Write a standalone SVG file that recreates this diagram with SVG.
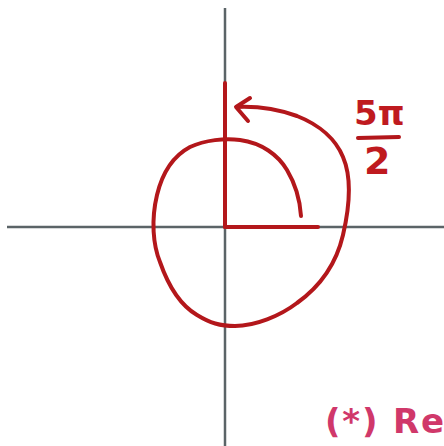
<svg xmlns="http://www.w3.org/2000/svg" width="444" height="446" viewBox="0 0 444 446">
<style>
.axis{stroke:#5b6467;stroke-width:2.5;fill:none}
.red{stroke:#b3171b;stroke-width:4;fill:none;stroke-linecap:round;stroke-linejoin:round}
.lbl{font-family:"DejaVu Sans",sans-serif;fill:#bf1a1f}
.note{font-family:"DejaVu Sans",sans-serif;fill:#d0386a}
</style>
<rect width="444" height="446" fill="#fff"/>
<g id="axes">
<line class="axis" x1="225" y1="8" x2="225" y2="446"/>
<line class="axis" x1="7" y1="227" x2="444" y2="227"/>
</g>
<g id="angle">
<line class="red" x1="225" y1="83" x2="225" y2="227" stroke-linecap="butt" stroke-width="3"/>
<line class="red" x1="225" y1="227" x2="318" y2="227" stroke-linecap="butt" stroke-width="3"/>
<path class="red" d="M301,216 C300,200 296,185 287,170 C278,155 262,143 240,140 C225,138 205,140 190,147 C175,155 163,170 157,195 C151,220 153,245 160,262 C168,285 180,305 197,315 C210,323 220,326 235,326 C255,326 280,316 297,303 C318,288 336,265 343,235 C350,205 352,178 343,157 C336,140 320,125 297,116 C280,110 260,106 237,107"/>
<path class="red" d="M250,98 L236,107 L248,121"/>
</g>
<g id="label">
<text class="lbl" x="354" y="125" font-size="34" font-weight="bold">5π</text>
<line class="red" x1="358" y1="138" x2="399" y2="137" stroke="#bf1a1f"/>
<text class="lbl" x="364" y="174" font-size="38" font-weight="bold">2</text>
</g>
<g id="note">
<text class="note" x="325" y="433" font-size="34" font-weight="bold" textLength="119" lengthAdjust="spacing">(*) Re</text>
</g>
</svg>
